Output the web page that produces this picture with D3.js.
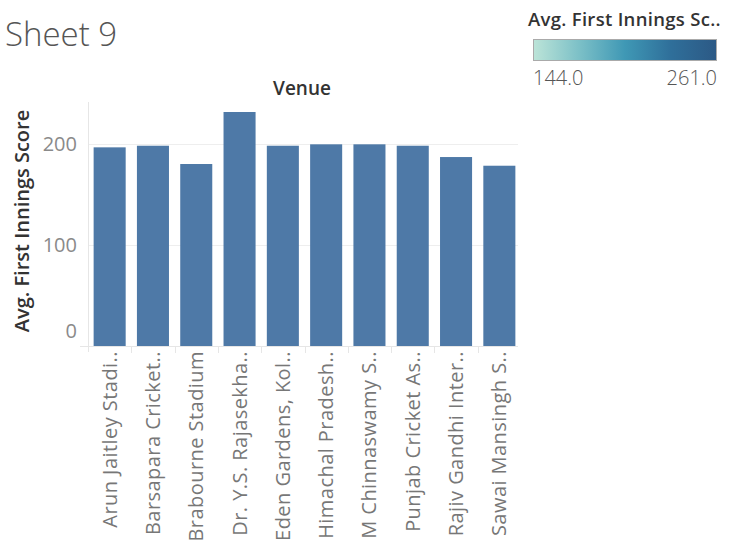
<!DOCTYPE html>
<html><head><meta charset="utf-8">
<script src="https://cdn.jsdelivr.net/npm/d3@7"></script>
<style>
body{margin:0;background:#fff;}
text{font-family:"Open Sans",sans-serif;}
</style></head>
<body><svg id="c" width="731" height="544"></svg>
<script>
const venues = ["Arun Jaitley Stadi..","Barsapara Cricket..","Brabourne Stadium","Dr. Y.S. Rajasekha..","Eden Gardens, Kol..","Himachal Pradesh..","M Chinnaswamy S..","Punjab Cricket As..","Rajiv Gandhi Inter..","Sawai Mansingh S.."];
const scores = [196.7,198.3,180.2,231.7,198.3,199.7,199.7,198.3,187.1,178.5];
const yTicks = [0,100,200];
const legendRange = [144.0,261.0];
const legendColors = ["#bce4d8","#7cc0c7","#3f98b5","#2f6f9a","#2c5985"];

const svg = d3.select("#c");
const L=88,R=521,T=102,B=346;
const x = d3.scaleBand().domain(venues).range([L,R]).paddingInner(0.26).paddingOuter(0.13);
const y = d3.scaleLinear().domain([0,241.6]).range([B,T]);

// title
svg.append("text").attr("x",5).attr("y",46).attr("font-size",33).attr("fill","#555").attr("font-weight",300).text("Sheet 9");
svg.append("text").attr("x",302).attr("y",95).attr("text-anchor","middle").attr("font-size",19).attr("font-weight",600).attr("fill","#333").text("Venue");

// gridlines
svg.append("g").selectAll("line").data(yTicks.filter(d=>d>0)).join("line")
 .attr("x1",L).attr("x2",R-3).attr("y1",d=>Math.round(y(d))+0.5).attr("y2",d=>Math.round(y(d))+0.5)
 .attr("stroke","#eeeeee").attr("stroke-width",1);
// vertical axis line
svg.append("line").attr("x1",L+0.5).attr("x2",L+0.5).attr("y1",T).attr("y2",B+6).attr("stroke","#e6e6e6");
// zero line
svg.append("line").attr("x1",L-8).attr("x2",R-3).attr("y1",B+0.5).attr("y2",B+0.5).attr("stroke","#e6e6e6");

// bars
svg.append("g").selectAll("rect").data(venues).join("rect")
 .attr("x",d=>x(d)).attr("width",x.bandwidth())
 .attr("y",(d,i)=>y(scores[i])).attr("height",(d,i)=>B-y(scores[i]))
 .attr("fill","#4e79a7");

// category separators
const step = x.step();
svg.append("g").selectAll("line").data(venues.slice(1)).join("line")
 .attr("x1",d=>Math.round(x(d)-step*0.13)+0.5).attr("x2",d=>Math.round(x(d)-step*0.13)+0.5)
 .attr("y1",B).attr("y2",B+7).attr("stroke","#e6e6e6");

// y axis via d3
const yAxis = d3.axisLeft(y).tickValues(yTicks).tickSize(0).tickPadding(10);
const gy = svg.append("g").attr("transform",`translate(${L},0)`).call(yAxis);
gy.select(".domain").remove();
gy.selectAll("text").attr("font-size",20).attr("fill","#8a8a8a").attr("font-family","Open Sans").attr("font-weight",400)
 .attr("dy",d=>d===0?"-0.42em":"0.32em").attr("x",-11);

svg.append("text").attr("transform","translate(29,221) rotate(-90)").attr("text-anchor","middle")
 .attr("font-size",20).attr("font-weight",600).attr("fill","#333").text("Avg. First Innings Score");

// x labels
const xAxis = d3.axisBottom(x).tickSize(0).tickPadding(0);
const gx = svg.append("g").attr("transform",`translate(0,${B})`).call(xAxis);
gx.select(".domain").remove();
gx.selectAll("text").attr("font-size",20).attr("fill","#777").attr("font-family","Open Sans").attr("font-weight",400)
 .attr("letter-spacing","0.45px")
 .attr("text-anchor","end").attr("transform","rotate(-90)").attr("x",-5).attr("y",0).attr("dy","0.35em")
 .attr("dx",0);
gx.selectAll(".tick").attr("transform",d=>`translate(${x(d)+x.bandwidth()/2},0)`);

// legend
svg.append("text").attr("x",528).attr("y",26).attr("font-size",18.5).attr("font-weight",600).attr("fill","#333")
 .attr("letter-spacing","0.3px").text("Avg. First Innings Sc..");
const defs = svg.append("defs");
const grad = defs.append("linearGradient").attr("id","lg");
grad.selectAll("stop").data(legendColors).join("stop")
 .attr("offset",(d,i)=>i/(legendColors.length-1)).attr("stop-color",d=>d);
svg.append("rect").attr("x",533.5).attr("y",39.5).attr("width",183).attr("height",21).attr("fill","url(#lg)").attr("stroke","#aaa");
const ls = d3.scaleLinear().domain(legendRange).range([533,717]);
svg.append("text").attr("x",ls(legendRange[0])).attr("y",85).attr("font-size",20).attr("fill","#555").attr("font-weight",300).text(legendRange[0].toFixed(1));
svg.append("text").attr("x",ls(legendRange[1])).attr("y",85).attr("text-anchor","end").attr("font-size",20).attr("fill","#555").attr("font-weight",300).text(legendRange[1].toFixed(1));
</script></body></html>
